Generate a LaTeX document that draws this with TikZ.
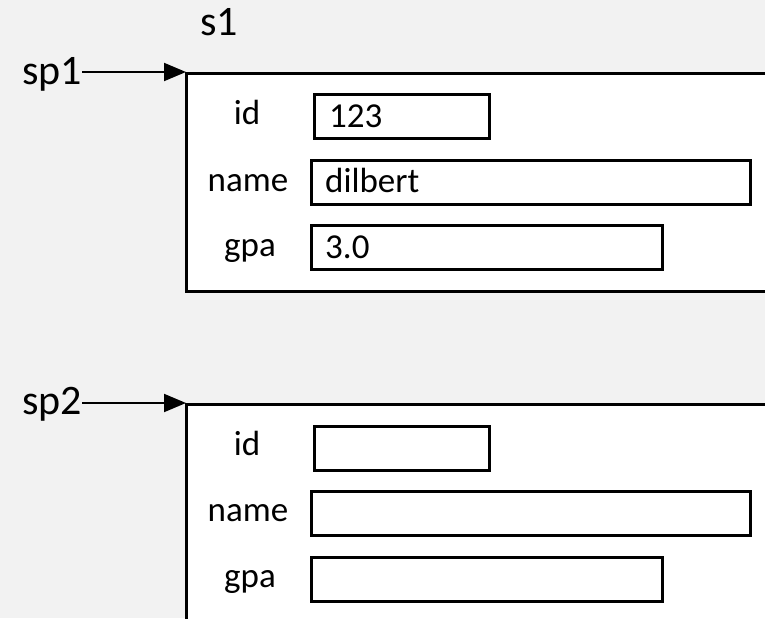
\documentclass[tikz,border=0pt]{standalone}
\usepackage{fontspec}
\setmainfont{Carlito}
\usetikzlibrary{arrows.meta}
\definecolor{canvas}{HTML}{F2F2F2}
\tikzset{
  record/.style={draw=black, fill=white, line width=2.5pt, anchor=north west, inner sep=0pt},
  field/.style={draw=black, fill=white, line width=2.5pt, anchor=north west, inner sep=0pt},
  label/.style={font=\fontsize{35}{40}\selectfont, inner sep=0pt},
  tagtext/.style={font=\fontsize{42}{48}\selectfont, inner sep=0pt},
  pointer/.style={line width=2pt, -{Triangle[length=22pt, width=18pt]}, shorten >=-1pt},
}
\begin{document}
\begin{tikzpicture}[x=1pt, y=-1pt]
  \useasboundingbox (0,0) rectangle (765,618);
  \fill[canvas] (0,0) rectangle (765,618);
  \clip (0,0) rectangle (765,618);

  % struct s1 and the pointer sp1
  \node[tagtext, anchor=base west] (s1) at (200,36) {s1};
  \node[record, minimum width=620pt, minimum height=218pt] (r1) at (185,72) {};
  \node[tagtext, anchor=base west] (sp1) at (22,84) {sp1};
  \draw[pointer] (sp1.east |- r1.north west) -- (r1.north west);

  \node[field, minimum width=175pt, minimum height=44pt] (id1) at (313,93) {};
  \node[field, minimum width=439pt, minimum height=44pt] (name1) at (310,159) {};
  \node[field, minimum width=351pt, minimum height=44pt] (gpa1) at (310,224) {};

  \node[label, anchor=base] (lid1) at (247,124) {id};
  \node[label, anchor=base] (lname1) at (248,191) {name};
  \node[label, anchor=base] (lgpa1) at (250,256) {gpa};

  \node[label, anchor=base west] (vid1) at (329,127) {123};
  \node[label, anchor=base west] (vname1) at (325,192) {dilbert};
  \node[label, anchor=base west] (vgpa1) at (325,258) {3.0};

  % second struct, reached through sp2
  \node[record, minimum width=620pt, minimum height=260pt] (r2) at (185,403) {};
  \node[tagtext, anchor=base west] (sp2) at (22,414) {sp2};
  \draw[pointer] (sp2.east |- r2.north west) -- (r2.north west);

  \node[field, minimum width=175pt, minimum height=44pt] (id2) at (313,425) {};
  \node[field, minimum width=439pt, minimum height=44pt] (name2) at (310,490) {};
  \node[field, minimum width=351pt, minimum height=44pt] (gpa2) at (310,556) {};

  \node[label, anchor=base] (lid2) at (247,455) {id};
  \node[label, anchor=base] (lname2) at (248,521) {name};
  \node[label, anchor=base] (lgpa2) at (250,587) {gpa};
\end{tikzpicture}
\end{document}
